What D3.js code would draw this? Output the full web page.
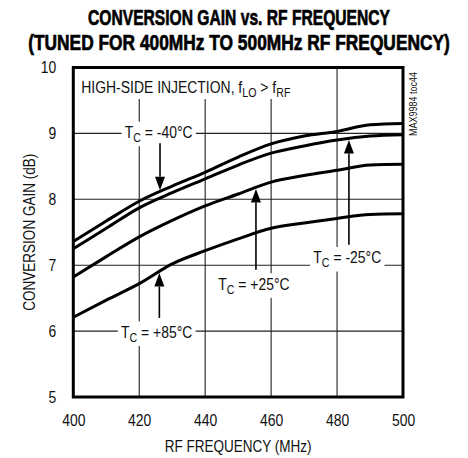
<!DOCTYPE html>
<html>
<head>
<meta charset="utf-8">
<script src="https://cdn.jsdelivr.net/npm/d3@7"></script>
<style>
  body { margin: 0; background: #fff; }
  text { font-family: "Liberation Sans", Arial, sans-serif; fill: #111; }
  .title { font-weight: bold; font-size: 22.5px; fill: #000; stroke: #000; stroke-width: 0.7px; }
</style>
</head>
<body>
<div id="chart"></div>
<script>
// data
const freqs = [400, 410, 420, 430, 440, 450, 460, 470, 480, 490, 500];
const gainM40 = [7.36, 7.67, 7.97, 8.20, 8.41, 8.64, 8.84, 8.96, 9.03, 9.13, 9.15];
const gainM25 = [7.25, 7.56, 7.87, 8.10, 8.31, 8.52, 8.70, 8.81, 8.90, 8.96, 8.98];
const gainP25 = [6.82, 7.13, 7.43, 7.68, 7.90, 8.08, 8.26, 8.36, 8.44, 8.52, 8.53];
const gainP85 = [6.21, 6.47, 6.72, 7.02, 7.22, 7.40, 7.56, 7.64, 7.71, 7.77, 7.78];
const xTicks = [400, 420, 440, 460, 480, 500];
const yTicks = [5, 6, 7, 8, 9, 10];
const tempLabels = ['-40°C', '-25°C', '+25°C', '+85°C'];

const series = [gainM40, gainM25, gainP25, gainP85].map((g, i) => ({
    name: tempLabels[i],
    values: freqs.map((f, j) => ({ f: f, g: g[j] }))
}));

const width = 468, height = 458;
const margin = { top: 67.5, right: 65, bottom: 61, left: 73.3 };
const innerW = width - margin.left - margin.right;
const innerH = height - margin.top - margin.bottom;
const K = 0.82;  // horizontal squeeze to get a narrow face

// squeeze a text horizontally around its own anchor point
function narrow(sel, k = K) {
    sel.each(function () {
        const t = d3.select(this);
        const x = +t.attr('x') || 0, y = +t.attr('y') || 0;
        t.attr('transform', `translate(${x},${y}) scale(${k},1) translate(${-x},${-y})`);
    });
}

const svg = d3.select('#chart').append('svg')
    .attr('width', width)
    .attr('height', height);

// titles, squeezed to the reference widths
[['CONVERSION GAIN vs. RF FREQUENCY', 25, 302],
 ['(TUNED FOR 400MHz TO 500MHz RF FREQUENCY)', 49.5, 422]].forEach(([txt, ty, w]) => {
    const t = svg.append('text').attr('class', 'title')
        .attr('x', 0).attr('y', 0).attr('text-anchor', 'middle')
        .text(txt);
    const k = w / t.node().getComputedTextLength();
    t.attr('transform', `translate(239,${ty}) scale(${k},1)`);
});

const g = svg.append('g')
    .attr('transform', `translate(${margin.left},${margin.top})`);

const x = d3.scaleLinear().domain([400, 500]).range([0, innerW]);
const y = d3.scaleLinear().domain([5, 10]).range([innerH, 0]);

// grid
const grid = g.append('g');
grid.selectAll('.vg').data(xTicks.slice(1, -1)).enter()
    .append('line')
    .attr('x1', d => x(d)).attr('x2', d => x(d))
    .attr('y1', 0).attr('y2', innerH)
    .attr('stroke', '#222').attr('stroke-width', 1.1);
grid.selectAll('.hg').data(yTicks.slice(1, -1)).enter()
    .append('line')
    .attr('x1', 0).attr('x2', innerW)
    .attr('y1', d => y(d)).attr('y2', d => y(d))
    .attr('stroke', '#222').attr('stroke-width', 1.1);

// axes (labels only, frame drawn separately)
const xAxis = d3.axisBottom(x).tickValues(xTicks).tickFormat(d3.format('d')).tickSize(0).tickPadding(17);
const yAxis = d3.axisLeft(y).tickValues(yTicks).tickFormat(d3.format('d')).tickSize(0).tickPadding(17);
const xAxisG = g.append('g').attr('transform', `translate(0,${innerH})`).call(xAxis);
const yAxisG = g.append('g').call(yAxis);
[xAxisG, yAxisG].forEach(a => {
    a.select('.domain').remove();
    a.selectAll('text').attr('font-size', 17).attr('font-family', null).attr('fill', '#111')
        .call(narrow);
});

// axis titles
svg.append('text')
    .attr('x', margin.left + innerW / 2).attr('y', 452)
    .attr('text-anchor', 'middle').attr('font-size', 16.5)
    .text('RF FREQUENCY (MHz)')
    .call(narrow);
svg.append('text')
    .attr('transform', `translate(35,${margin.top + innerH / 2}) rotate(-90) scale(${K},1)`)
    .attr('text-anchor', 'middle').attr('font-size', 16.5)
    .text('CONVERSION GAIN (dB)');

// curves
const line = d3.line()
    .x(d => x(d.f))
    .y(d => y(d.g))
    .curve(d3.curveMonotoneX);

g.append('g').selectAll('.curve').data(series).enter()
    .append('path')
    .attr('class', 'curve')
    .attr('fill', 'none')
    .attr('stroke', '#000')
    .attr('stroke-width', 3)
    .attr('d', d => line(d.values));

// value of a series at frequency f (for arrow tips)
function valueAt(s, f) {
    const i = d3.bisector(d => d.f).right(s.values, f) - 1;
    const a = s.values[Math.max(0, i)], b = s.values[Math.min(s.values.length - 1, i + 1)];
    if (a === b) return a.g;
    return a.g + (b.g - a.g) * (f - a.f) / (b.f - a.f);
}

// annotations: label centre and baseline, arrow x and tail, in data units
const notes = [
    { s: 0, lx: 425.9, ly: 8.93, ax: 426.3, tail: 8.85 },
    { s: 1, lx: 483.1, ly: 7.03, ax: 483.6, tail: 7.31 },
    { s: 2, lx: 454.8, ly: 6.63, ax: 455.4, tail: 6.93 },
    { s: 3, lx: 425.3, ly: 5.90, ax: 426.1, tail: 6.20 }
];

const annG = g.append('g');

function whiteBox(textSel, padX, padY) {
    const b = textSel.node().getBBox();
    annG.insert('rect', () => textSel.node())
        .attr('x', b.x - padX).attr('y', b.y - padY)
        .attr('width', b.width + padX * 2).attr('height', b.height + padY * 2)
        .attr('transform', textSel.attr('transform'))
        .attr('fill', '#fff');
}

// header label
annG.append('rect')
    .attr('x', 1.5).attr('y', 1.5).attr('width', 218).attr('height', 30).attr('fill', '#fff');
const head = annG.append('text')
    .attr('x', 8).attr('y', 25.5)
    .attr('font-size', 17);
head.append('tspan').text('HIGH-SIDE INJECTION, f');
head.append('tspan').attr('font-size', 13).attr('dy', 4).text('LO');
head.append('tspan').attr('dy', -4).text(' > f');
head.append('tspan').attr('font-size', 13).attr('dy', 4).text('RF');
head.call(narrow);

notes.forEach(n => {
    const s = series[n.s];
    const t = annG.append('text')
        .attr('x', x(n.lx)).attr('y', y(n.ly))
        .attr('text-anchor', 'middle')
        .attr('font-size', 17);
    t.append('tspan').text('T');
    t.append('tspan').attr('font-size', 13).attr('dy', 4).text('C');
    t.append('tspan').attr('dy', -4).text(' = ' + s.name);
    t.call(narrow);
    whiteBox(t, 4, 1);

    const tipY = y(valueAt(s, n.ax));
    const tailY = y(n.tail);
    const dir = tipY > tailY ? 1 : -1;
    const headLen = 15, headW = 5;
    annG.append('line')
        .attr('x1', x(n.ax)).attr('x2', x(n.ax))
        .attr('y1', tailY).attr('y2', tipY - dir * headLen)
        .attr('stroke', '#000').attr('stroke-width', 1.6);
    annG.append('path')
        .attr('d', `M${x(n.ax)},${tipY - dir * 1.5}` +
            `L${x(n.ax) - headW},${tipY - dir * headLen}` +
            `L${x(n.ax) + headW},${tipY - dir * headLen}Z`)
        .attr('fill', '#000');
});

// frame
g.append('rect')
    .attr('x', 0).attr('y', 0)
    .attr('width', innerW).attr('height', innerH)
    .attr('fill', 'none')
    .attr('stroke', '#000')
    .attr('stroke-width', 3);

// side id
svg.append('text')
    .attr('transform', `translate(${margin.left + innerW + 14},104) rotate(-90) scale(${K},1)`)
    .attr('text-anchor', 'middle').attr('font-size', 11)
    .attr('fill', '#333')
    .text('MAX9984 toc44');
</script>
</body>
</html>
